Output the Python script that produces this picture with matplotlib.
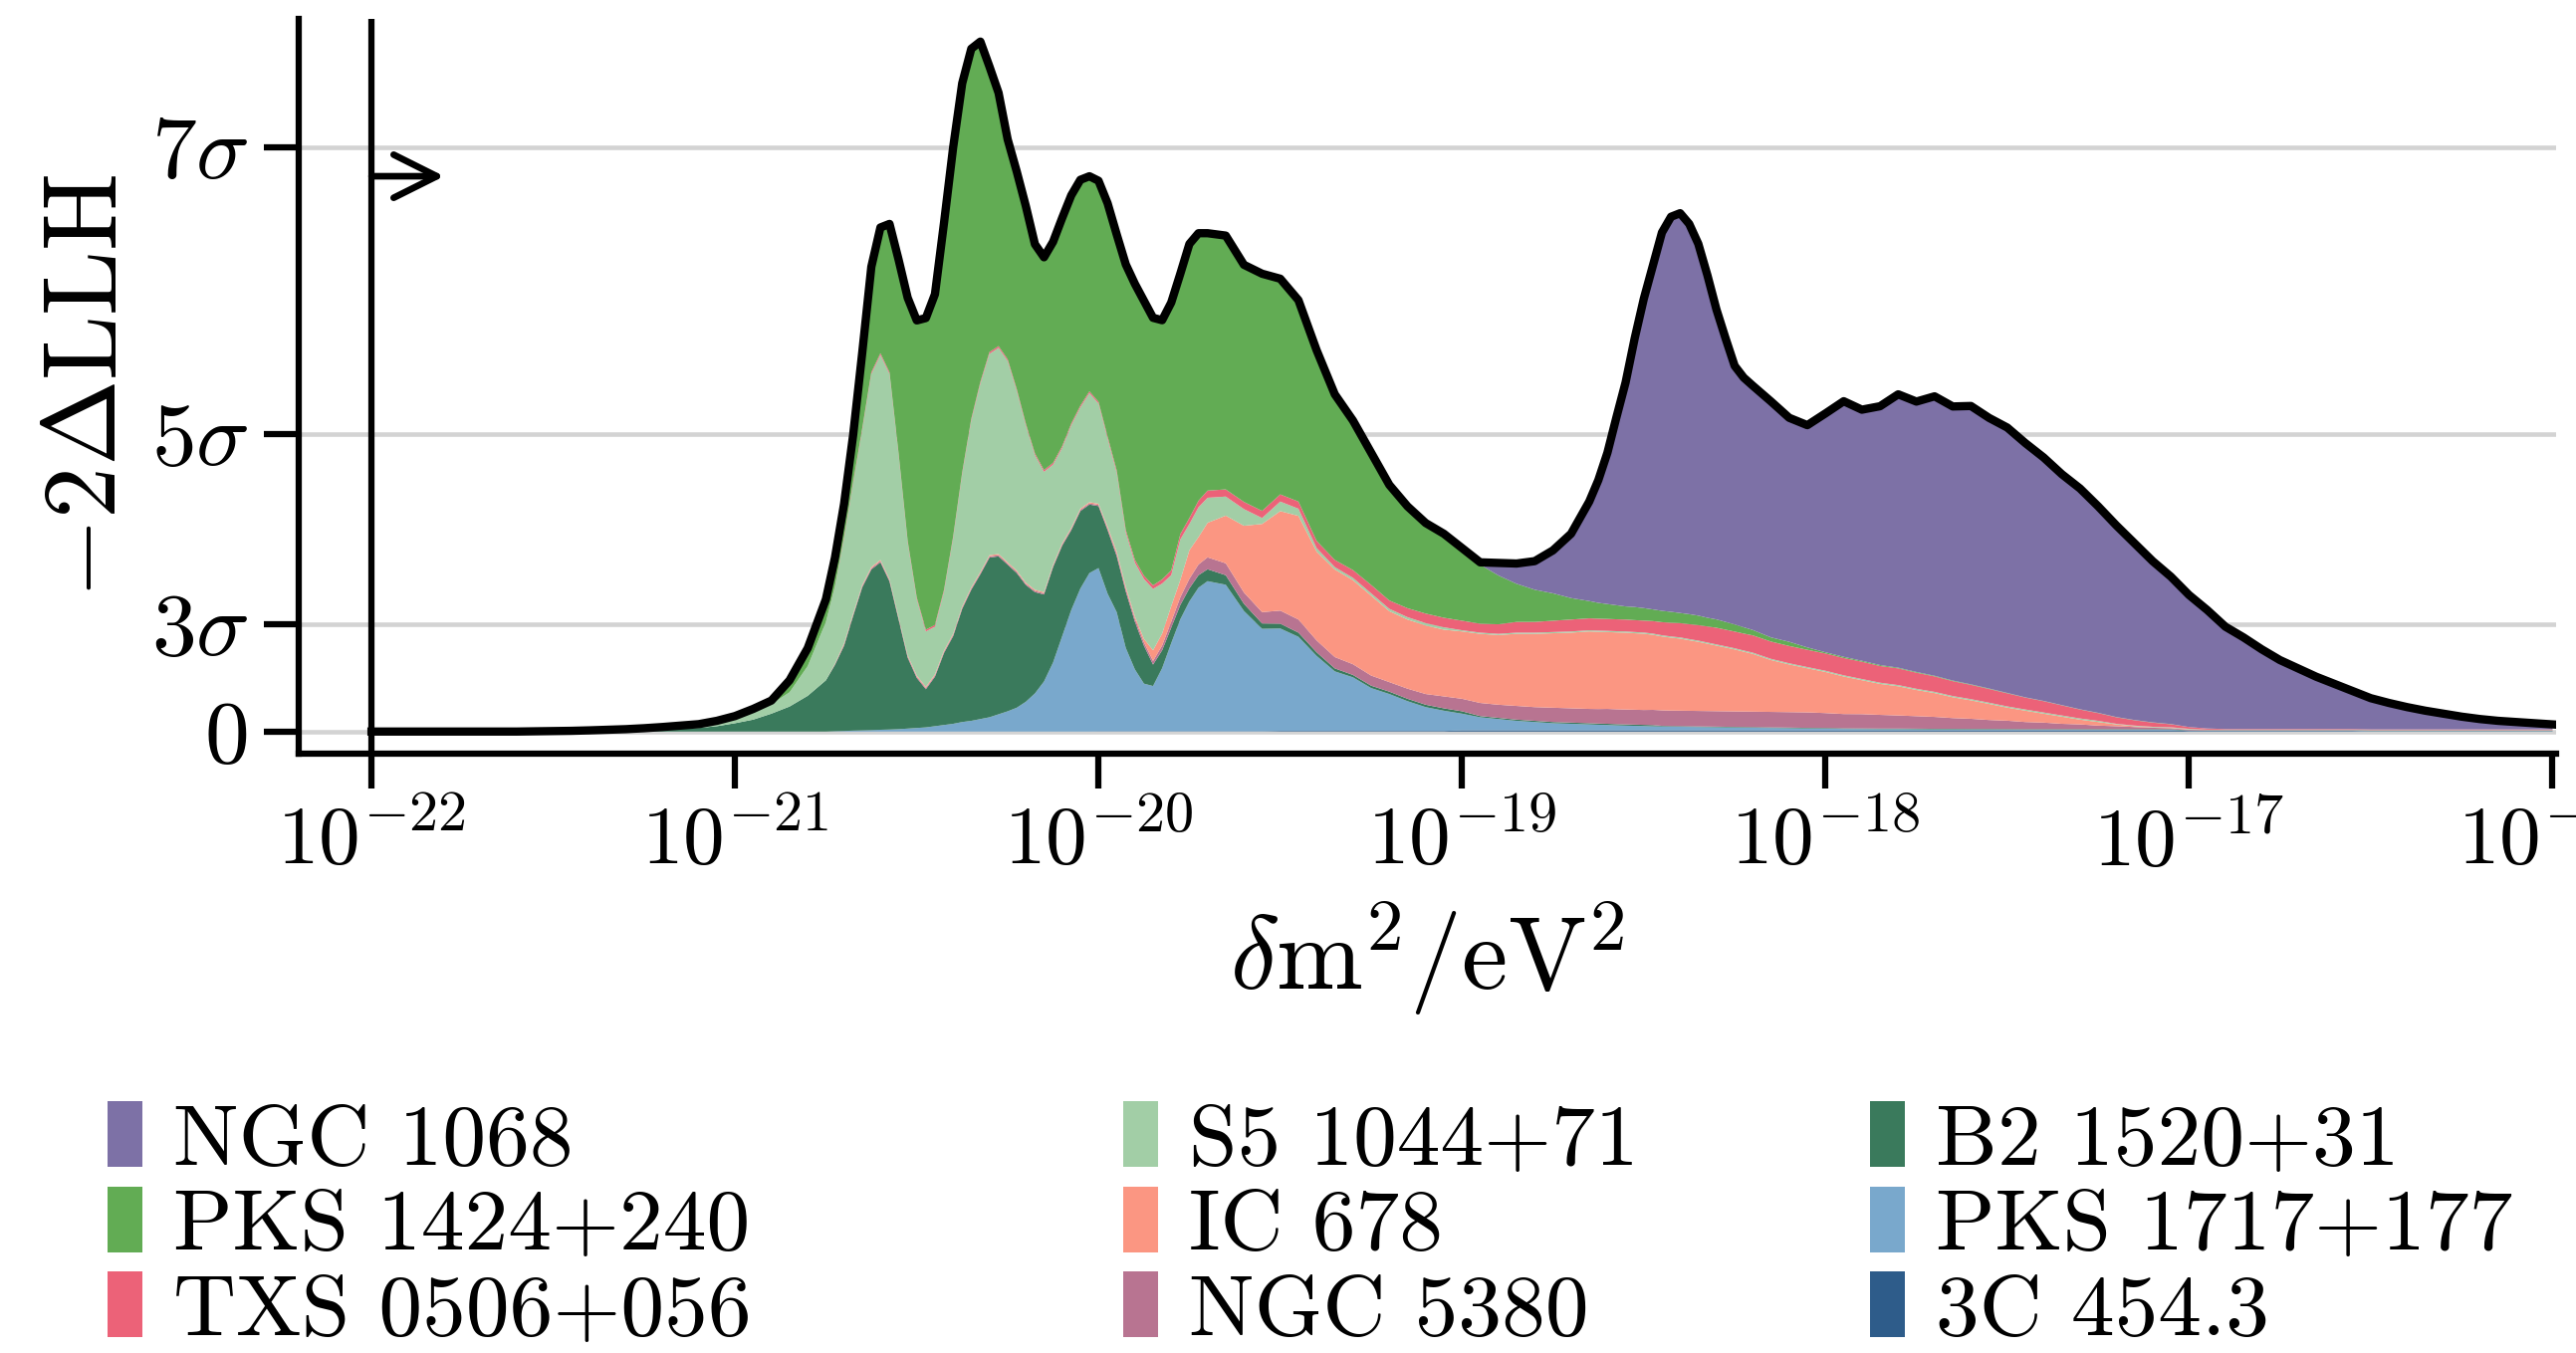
import numpy as np
import matplotlib.pyplot as plt
from matplotlib.ticker import FixedLocator, NullLocator

plt.rcParams['font.family'] = 'cmr10'
plt.rcParams['mathtext.fontset'] = 'cm'
plt.rcParams['axes.formatter.use_mathtext'] = True

# sampling grid in log10(dm^2 / eV^2), denser around the sharp peaks
log_dm2 = np.round(np.concatenate([
    np.linspace(-22.0, -20.75, 26),
    np.linspace(-20.725, -19.7, 42),
    np.linspace(-19.65, -18.65, 21),
    np.linspace(-18.625, -18.2, 18),
    np.linspace(-18.15, -16.0, 44)]), 3)

# -2 Delta LLH contribution of each source (stack order, bottom first)
c3c_454 = ([0] * 26
           + [0] * 29 + [0.02] * 13
           + [0.02, 0.02, 0.02, 0.05, 0.05, 0.05, 0.05, 0.05, 0.05, 0.05,
              0.05, 0.05, 0.05, 0.1, 0.1, 0.1, 0.1, 0.1, 0.1, 0.1, 0.1]
           + [0.1] * 18
           + [0.1] * 23 + [0.05] * 10 + [0.02] * 11)
pks_1717 = ([0] * 26
            + [0.03, 0.05, 0.08, 0.1, 0.12, 0.15, 0.17, 0.2, 0.25, 0.3,
               0.35, 0.45, 0.55, 0.65, 0.8, 0.9, 1.05, 1.2, 1.45, 1.7,
               2.0, 2.5, 3.2, 4.2, 5.8, 8.0, 10.2, 12.0, 13.3, 13.7,
               11.55, 10.0, 7.0, 5.2, 4.0, 3.8, 5.3, 7.4, 9.4, 10.9,
               12.05, 12.6]
            + [12.3, 10.1, 8.6, 8.6, 7.9, 6.3, 5.0, 4.5, 3.6, 3.1,
               2.5, 2.0, 1.7, 1.4, 1.1, 0.95, 0.8, 0.7, 0.6, 0.55, 0.5]
            + [0.47, 0.45, 0.42, 0.4, 0.38, 0.36, 0.34, 0.33, 0.31, 0.3,
               0.29, 0.28, 0.27, 0.26, 0.25, 0.24, 0.23, 0.22]
            + [0.2, 0.18, 0.16, 0.15, 0.12, 0.11, 0.1, 0.1, 0.09, 0.08,
               0.08, 0.07, 0.07, 0.06, 0.05, 0.05, 0.05, 0.05, 0.05, 0.05,
               0.05, 0.05, 0.05] + [0.03] * 21)
b2_1520 = ([0, 0, 0, 0, 0, 0, 0, 0, 0, 0.01,
            0.02, 0.03, 0.05, 0.06, 0.08, 0.12, 0.18, 0.24, 0.3, 0.45,
            0.7, 1.0, 1.5, 2.1, 3.0, 4.3]
           + [5.57, 7.15, 9.62, 12.0, 13.48, 14.05, 12.43, 9.2, 5.95, 4.2,
              3.2, 4.15, 6.05, 7.35, 9.5, 11.0, 12.15, 13.4, 13.25, 12.3,
              11.3, 9.8, 8.5, 7.3, 8.0, 7.6, 6.7, 6.5, 5.75, 5.2,
              5.33, 4.7, 4.73, 4.0, 3.18, 1.8, 1.5, 1.3, 1.2, 1.1,
              1.05, 1.0]
           + [0.8, 0.6, 0.45, 0.4, 0.35, 0.3, 0.25, 0.2, 0.2, 0.2,
              0.2, 0.2, 0.2, 0.2, 0.1, 0.1, 0.1, 0.1, 0.1, 0.1, 0.1]
           + [0.1] * 7 + [0.05] * 11
           + [0.05] * 23 + [0.02] * 21)
ngc_5380 = ([0] * 26
            + [0.05] + [0.1] * 29
            + [0.15, 0.2, 0.22, 0.25, 0.28, 0.3, 0.4, 0.5, 0.65, 0.8, 0.9, 1.0]
            + [1.0, 0.95, 0.95, 1.1, 1.1, 1.0, 0.95, 0.9, 0.85, 0.8,
               0.85, 0.9, 1.0, 1.05, 1.1, 1.1, 1.15, 1.15, 1.2, 1.2, 1.2]
            + [1.22, 1.25, 1.25, 1.25, 1.25, 1.25, 1.28, 1.3, 1.3, 1.3,
               1.3, 1.3, 1.3, 1.3, 1.3, 1.3, 1.3, 1.3]
            + [1.3, 1.3, 1.3, 1.25, 1.2, 1.2, 1.15, 1.1, 1.05, 1.0,
               0.9, 0.85, 0.75, 0.7, 0.6, 0.55, 0.45, 0.4, 0.3, 0.25,
               0.18, 0.12, 0.08, 0.05] + [0.02] * 20)
ic_678 = ([0] * 26
          + [0.05] + [0.1] * 29
          + [0.15, 0.2, 0.2, 0.2, 0.3, 0.9, 1.0, 1.3, 1.45, 2.4, 2.3, 2.9]
          + [4.0, 5.6, 7.4, 8.35, 8.7, 7.45, 7.35, 7.05, 6.7, 5.95,
             5.8, 5.75, 5.6, 5.65, 5.8, 5.85, 6.05, 6.15, 6.25, 6.35, 6.5]
          + [6.48, 6.45, 6.45, 6.45, 6.42, 6.4, 6.3, 6.2, 6.12, 6.05,
             5.92, 5.8, 5.65, 5.5, 5.35, 5.2, 5.02, 4.85]
          + [4.35, 4.0, 3.7, 3.45, 3.15, 2.85, 2.6, 2.45, 2.2, 2.0,
             1.75, 1.55, 1.35, 1.1, 0.95, 0.75, 0.6, 0.4, 0.3, 0.15,
             0.07, 0.03, 0.03, 0.03] + [0.02] * 20)
s5_1044 = ([0, 0, 0, 0, 0, 0, 0, 0, 0, 0.01,
            0.01, 0.02, 0.03, 0.05, 0.07, 0.1, 0.12, 0.16, 0.2, 0.35,
            0.5, 0.7, 0.8, 1.2, 2.5, 4.9]
           + [6.46, 8.8, 10.9, 13.0, 16.2, 17.2, 17.2, 13.6, 9.45, 6.4,
              4.65, 4.0, 4.95, 8.0, 11.1, 14.0, 15.8, 16.9, 17.3, 16.9,
              15.1, 13.2, 11.3, 10.1, 8.4, 8.0, 8.6, 8.5, 9.15, 8.4,
              7.38, 6.6, 4.53, 4.5, 5.02, 5.15, 4.2, 2.6, 3.4, 2.2,
              2.5, 2.1]
           + [1.6, 1.4, 0.5, 0.8, 0.6, 0.3, 0.2, 0.2, 0.2, 0.2,
              0.2, 0.2, 0.2, 0.1, 0.1, 0.1, 0.1, 0.1, 0.1, 0.1, 0.1]
           + [0.1] * 18
           + [0.1] * 19 + [0.05] * 5 + [0.02] * 20)
txs_0506 = ([0] * 26
            + [0.05] + [0.15] * 29
            + [0.18, 0.2, 0.22, 0.25, 0.28, 0.3, 0.35, 0.4, 0.45, 0.5, 0.55, 0.6]
            + [0.6, 0.6, 0.6, 0.6, 0.6, 0.6, 0.6, 0.65, 0.7, 0.7,
               0.75, 0.8, 0.8, 0.8, 0.75, 0.8, 0.9, 0.9, 0.95, 1.0, 1.0]
            + [1.0, 1.0, 1.0, 1.0, 1.0, 1.0, 1.05, 1.1, 1.15, 1.2,
               1.25, 1.3, 1.35, 1.4, 1.4, 1.4, 1.42, 1.45]
            + [1.45, 1.45, 1.45, 1.45, 1.45, 1.45, 1.4, 1.4, 1.35, 1.3,
               1.25, 1.2, 1.15, 1.1, 1.0, 0.95, 0.85, 0.75, 0.65, 0.55,
               0.45, 0.35, 0.25, 0.15, 0.1] + [0.05] * 19)
pks_1424 = ([0, 0, 0, 0, 0, 0, 0, 0, 0, 0,
             0.01, 0.01, 0.02, 0.04, 0.05, 0.06, 0.08, 0.1, 0.12, 0.1,
             0.1, 0.2, 0.3, 1.0, 1.5, 1.9]
            + [2.39, 2.75, 3.95, 6.35, 8.85, 10.55, 12.45, 16.25, 20.4, 23.25,
               26.15, 27.75, 30.8, 32.65, 32.65, 31.05, 28.55, 23.95, 21.25, 18.45,
               18.25, 18.25, 17.55, 17.85, 18.55, 19.15, 19.15, 18.95, 18.05, 18.55,
               19.57, 19.8, 22.28, 23.15, 23.07, 22.45, 21.75, 22.48, 21.85, 23.0,
               22.45, 21.6]
            + [21.3, 19.9, 19.9, 18.1, 16.9, 16.0, 13.9, 12.55, 11.1, 9.7,
               8.55, 7.6, 7.05, 6.1, 4.95, 4.1, 3.2, 2.7, 2.3, 1.8, 1.45]
            + [1.33, 1.25, 1.18, 1.1, 1.1, 1.05, 0.98, 0.95, 0.92, 0.85,
               0.84, 0.8, 0.73, 0.7, 0.65, 0.6, 0.53, 0.45]
            + [0.35, 0.35, 0.2, 0.1, 0.1, 0.08, 0.08, 0.06, 0.06, 0.05,
               0.05, 0.04, 0.04, 0.03] + [0.02] * 9 + [0] * 21)
ngc_1068 = ([0] * 26
            + [0] * 42
            + [0] * 14 + [0.2, 1.05, 1.7, 2.4, 3.6, 5.4, 8.35]
            + [10.3, 12.7, 15.8, 18.8, 22.55, 25.95, 28.85, 31.75, 33.15, 33.55,
               32.75, 31.2, 28.75, 26.0, 23.8, 21.7, 20.95, 20.5]
            + [19.8, 18.8, 18.65, 20.05, 21.45, 21.07, 21.72, 22.94, 22.69, 23.45,
               23.0, 23.36, 22.71, 22.27, 21.33, 20.43, 19.38, 18.53, 17.33, 16.08,
               14.83, 13.53, 12.37, 11.08, 9.94, 8.59, 7.69, 6.69, 5.79, 5.09,
               4.39, 3.79, 3.19, 2.62, 2.22, 1.87, 1.57, 1.32, 1.07, 0.87,
               0.72, 0.62, 0.52, 0.42])

names = ['3C 454.3', 'PKS 1717+177', 'B2 1520+31', 'NGC 5380', 'IC 678',
         'S5 1044+71', 'TXS 0506+056', 'PKS 1424+240', 'NGC 1068']
colors = ['#2e5c8a', '#79a8cc', '#3a7a5c', '#b87491', '#fb9682',
          '#a2cea6', '#ec6278', '#62ac54', '#7d71a6']
stack = [c3c_454, pks_1717, b2_1520, ngc_5380, ic_678,
         s5_1044, txs_0506, pks_1424, ngc_1068]
for n, s in zip(names, stack):
    if len(s) != len(log_dm2):
        raise ValueError(f'{n}: {len(s)} values for {len(log_dm2)} grid points')

ytick_vals = [0, 9, 25, 49]
ytick_labels = ['0', r'$3\sigma$', r'$5\sigma$', r'$7\sigma$']

dm2 = 10.0 ** log_dm2

fig = plt.figure(figsize=(2587 / 300, 1359 / 300), dpi=300)
ax = fig.add_axes([0.116, 0.4432, 0.8763, 0.5428])
ax.set_xscale('log')

polys = ax.stackplot(dm2, *stack, colors=colors, labels=names, linewidth=0.4)
total = np.sum(np.array(stack), axis=0)
ax.plot(dm2, total, color='black', lw=2.0, zorder=5,
        solid_joinstyle='round')

# lower edge of the scan
ax.axvline(1e-22, color='black', lw=1.5, zorder=6)
ax.annotate('', xy=(10 ** -21.8, 46.6), xytext=(1e-22, 46.6),
            arrowprops=dict(arrowstyle='->', lw=1.6, color='black',
                            mutation_scale=26, shrinkA=0, shrinkB=0),
            zorder=6)

ax.set_xlim(10 ** -22.2, 10 ** -15.99)
ax.set_ylim(-1.83, 59.8)
ax.set_xticks([1e-22, 1e-21, 1e-20, 1e-19, 1e-18, 1e-17, 1e-16])
ax.xaxis.set_minor_locator(NullLocator())
ax.yaxis.set_major_locator(FixedLocator(ytick_vals))
ax.set_yticklabels(ytick_labels)

ax.grid(axis='y', color='#d3d3d3', lw=1.1)
ax.set_axisbelow(True)
for s in ['top', 'right']:
    ax.spines[s].set_visible(False)
for s in ['left', 'bottom']:
    ax.spines[s].set_linewidth(1.5)
ax.tick_params(axis='both', direction='out', length=8.5, width=1.5)
ax.tick_params(axis='x', labelsize=20)
ax.tick_params(axis='y', labelsize=21.5)

ax.set_xlabel(r'$\delta\mathrm{m}^2/\mathrm{eV}^2$', fontsize=25)
ax.set_ylabel(r'$-2\Delta\mathrm{LLH}$', fontsize=25)

# legend: three columns, top layer first
handle = dict(zip(names, polys))
columns = [['NGC 1068', 'PKS 1424+240', 'TXS 0506+056'],
           ['S5 1044+71', 'IC 678', 'NGC 5380'],
           ['B2 1520+31', 'PKS 1717+177', '3C 454.3']]
col_x = [108 / 2587, 1128 / 2587, 1878 / 2587]
for cx, col in zip(col_x, columns):
    fig.legend([handle[n] for n in col], col, loc='center left',
               bbox_to_anchor=(cx, 1 - 1232 / 1359), frameon=False,
               borderpad=0, borderaxespad=0, handlelength=0.4,
               handleheight=0.78, handletextpad=0.35, labelspacing=0.06,
               fontsize=21)

fig.savefig('out.png', dpi=300)
